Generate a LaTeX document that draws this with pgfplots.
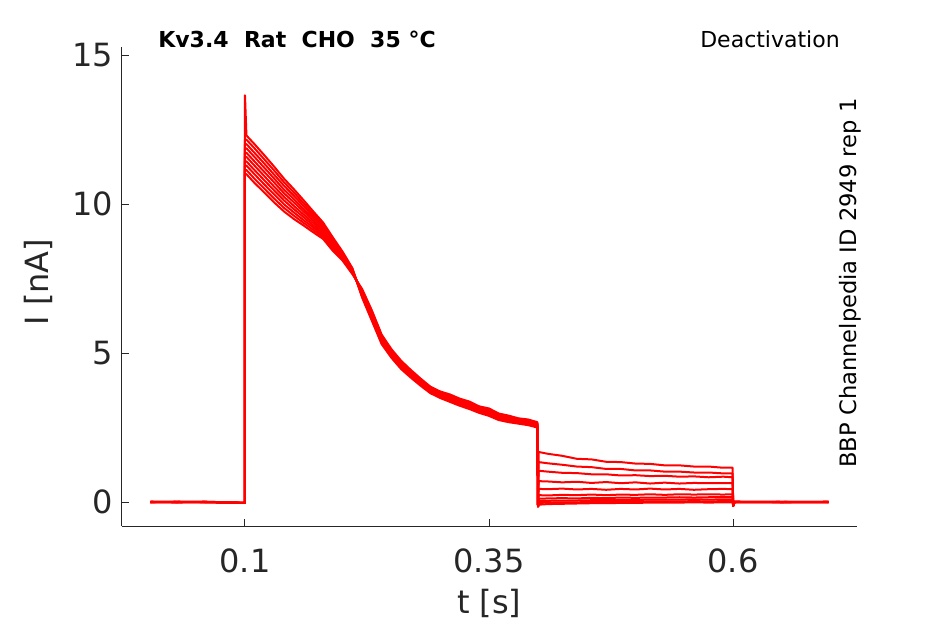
\documentclass[border=0pt]{standalone}
\usepackage{fontspec}
\setmainfont{DejaVu Sans}
\usepackage{pgfplots}
\usepackage{pgfplotstable}
\pgfplotsset{compat=1.18}
\definecolor{axgray}{gray}{0.15}
\pgfplotstableread{
t      a     b     c     d     e     f     g     h     i     j
0.003  0.00  0.00  0.01  0.00 -0.01  0.00  0.00  0.01  0.00  0.00
0.030  0.01  0.00  0.00 -0.01  0.00  0.00  0.01  0.00  0.00 -0.01
0.060  0.00  0.01  0.00  0.00  0.00 -0.01  0.00  0.00  0.01  0.00
0.0999 -0.03 -0.03 -0.03 -0.03 -0.03 -0.03 -0.03 -0.03 -0.03 -0.03
0.1000 13.65 12.16 12.01 11.87 11.72 11.58 11.43 11.29 11.14 11.00
0.1015 12.30 12.16 12.01 11.87 11.72 11.58 11.43 11.29 11.14 11.00
0.110 12.00 11.86 11.71 11.57 11.42 11.28 11.13 10.99 10.84 10.70
0.120 11.63 11.49 11.35 11.21 11.07 10.93 10.79 10.65 10.51 10.38
0.130 11.25 11.12 10.98 10.85 10.72 10.58 10.45 10.32 10.18 10.05
0.140 10.85 10.73 10.61 10.48 10.36 10.24 10.12  9.99  9.87  9.75
0.150 10.50 10.39 10.28 10.17 10.06  9.94  9.83  9.72  9.61  9.50
0.160 10.13 10.03  9.94  9.84  9.75  9.65  9.56  9.46  9.37  9.28
0.170  9.75  9.67  9.59  9.52  9.44  9.36  9.28  9.21  9.13  9.05
0.180  9.38  9.31  9.25  9.19  9.13  9.07  9.01  8.95  8.89  8.83
0.190  8.88  8.83  8.78  8.73  8.68  8.63  8.58  8.53  8.48  8.43
0.200  8.40  8.37  8.33  8.30  8.27  8.23  8.20  8.17  8.13  8.10
0.210  7.85  7.83  7.81  7.78  7.76  7.74  7.72  7.69  7.67  7.65
0.220  6.86  6.90  6.91  6.96  6.97  7.03  7.04  7.09  7.11  7.15
0.230  6.08  6.13  6.14  6.20  6.22  6.28  6.30  6.36  6.38  6.43
0.240  5.30  5.33  5.37  5.40  5.44  5.46  5.51  5.54  5.58  5.62
0.250  4.84  4.88  4.90  4.94  4.97  5.00  5.02  5.07  5.09  5.13
0.260  4.46  4.51  4.52  4.57  4.58  4.62  4.64  4.68  4.70  4.74
0.270  4.17  4.22  4.23  4.27  4.29  4.32  4.34  4.37  4.39  4.43
0.280  3.90  3.94  3.96  3.99  4.01  4.04  4.05  4.09  4.10  4.14
0.290  3.65  3.69  3.70  3.74  3.75  3.78  3.79  3.82  3.84  3.87
0.300  3.49  3.53  3.54  3.58  3.59  3.62  3.63  3.66  3.68  3.71
0.310  3.36  3.43  3.42  3.48  3.46  3.52  3.51  3.56  3.55  3.61
0.320  3.23  3.28  3.29  3.33  3.34  3.37  3.38  3.41  3.43  3.47
0.330  3.12  3.19  3.18  3.23  3.22  3.28  3.27  3.32  3.31  3.37
0.340  2.99  3.03  3.05  3.08  3.09  3.12  3.13  3.16  3.18  3.21
0.350  2.89  2.96  2.94  3.01  2.99  3.05  3.03  3.09  3.08  3.14
0.360  2.75  2.79  2.80  2.84  2.85  2.88  2.89  2.92  2.93  2.97
0.370  2.68  2.74  2.73  2.78  2.77  2.82  2.81  2.86  2.85  2.90
0.380  2.63  2.66  2.67  2.70  2.71  2.73  2.74  2.77  2.78  2.81
0.390  2.58  2.63  2.62  2.67  2.65  2.70  2.68  2.73  2.71  2.77
0.3995 2.50  2.53  2.54  2.57  2.58  2.60  2.61  2.64  2.65  2.68
0.4002 -0.15 -0.15 -0.15 -0.15 -0.15 -0.15 -0.15 -0.15 -0.15 -0.15
0.4008 1.68  1.34  1.05  0.70  0.44  0.23  0.11  0.03 -0.03 -0.09
0.410  1.62  1.30  1.02  0.69  0.43  0.22  0.12  0.04 -0.02 -0.07
0.425  1.55  1.25  0.98  0.66  0.45  0.24  0.13  0.05 -0.01 -0.06
0.440  1.45  1.19  0.97  0.68  0.42  0.23  0.12  0.05 -0.01 -0.05
0.455  1.43  1.17  0.93  0.64  0.44  0.25  0.14  0.06  0.00 -0.04
0.470  1.35  1.11  0.93  0.67  0.41  0.23  0.13  0.06  0.00 -0.04
0.485  1.34  1.11  0.89  0.63  0.44  0.25  0.15  0.07  0.01 -0.03
0.500  1.29  1.06  0.90  0.66  0.42  0.24  0.14  0.07  0.01 -0.03
0.515  1.28  1.06  0.87  0.62  0.45  0.26  0.15  0.08  0.02 -0.02
0.530  1.23  1.02  0.88  0.65  0.42  0.24  0.15  0.08  0.02 -0.02
0.545  1.23  1.02  0.85  0.62  0.44  0.26  0.16  0.08  0.02 -0.02
0.560  1.19  0.99  0.86  0.64  0.41  0.25  0.15  0.09  0.03 -0.01
0.575  1.19  0.99  0.83  0.63  0.43  0.26  0.16  0.08  0.02 -0.02
0.590  1.15  0.96  0.85  0.63  0.44  0.25  0.16  0.09  0.03 -0.01
0.5995 1.15  0.96  0.83  0.63  0.43  0.26  0.16  0.09  0.03 -0.01
0.6002 -0.13 -0.13 -0.13 -0.13 -0.13 -0.13 -0.13 -0.13 -0.13 -0.13
0.6015 0.00  0.01  0.00  0.00  0.01  0.00  0.00  0.00  0.01  0.00
0.650  0.00  0.00  0.01  0.00  0.00  0.00 -0.01  0.00  0.00  0.00
0.698  0.00  0.00  0.00  0.01  0.00  0.00  0.00  0.00  0.00  0.01
}\data
\begin{document}
\begin{tikzpicture}
\begin{axis}[
  scale only axis,
  width=367.25pt, height=239.65pt,
  xmin=-0.026, xmax=0.7265, ymin=-0.805, ymax=15.28,
  axis x line*=bottom, axis y line*=left,
  axis line style={-, draw=axgray, line width=0.5pt},
  tick align=inside, major tick length=3.5pt,
  tick style={draw=axgray, line width=0.5pt},
  xtick={0.1,0.35,0.6}, xticklabels={0.1,0.35,0.6},
  ytick={0,5,10,15}, yticklabels={0,5,10,15},
  /pgf/number format/assume math mode=true,
  ticklabel style={font=\fontsize{16}{19}\selectfont, text=axgray},
  xticklabel style={yshift=-8pt},
  yticklabel style={xshift=-1pt},
  xlabel={t [s]}, ylabel={I [nA]},
  label style={font=\fontsize{16}{19}\selectfont, text=axgray},
  xlabel style={at={(axis description cs:0.5,-0.1607)}, anchor=center},
  ylabel style={at={(axis description cs:-0.1144,0.509)}, anchor=center},
]
\pgfplotsinvokeforeach{a,b,c,d,e,f,g,h,i,j}{
  \addplot[red, line width=1.0pt, line join=round] table[x=t, y=#1] {\data};
}
\coordinate (SW) at (rel axis cs:0,0);
\end{axis}
\path[use as bounding box] ([shift={(-61pt,-49pt)}]SW) rectangle ++(472.5pt,312pt);
\node[font=\fontsize{11}{13}\selectfont\bfseries, anchor=center] at ([shift={(87.5pt,243.5pt)}]SW) {Kv3.4\ \ Rat\ \ CHO\ \ 35 °C};
\node[font=\fontsize{11}{13}\selectfont, anchor=center] at ([shift={(324pt,243.5pt)}]SW) {Deactivation};
\node[font=\fontsize{11.3}{13}\selectfont, anchor=center, rotate=90] at ([shift={(364pt,121.5pt)}]SW) {BBP Channelpedia ID 2949 rep 1};
\end{tikzpicture}
\end{document}
